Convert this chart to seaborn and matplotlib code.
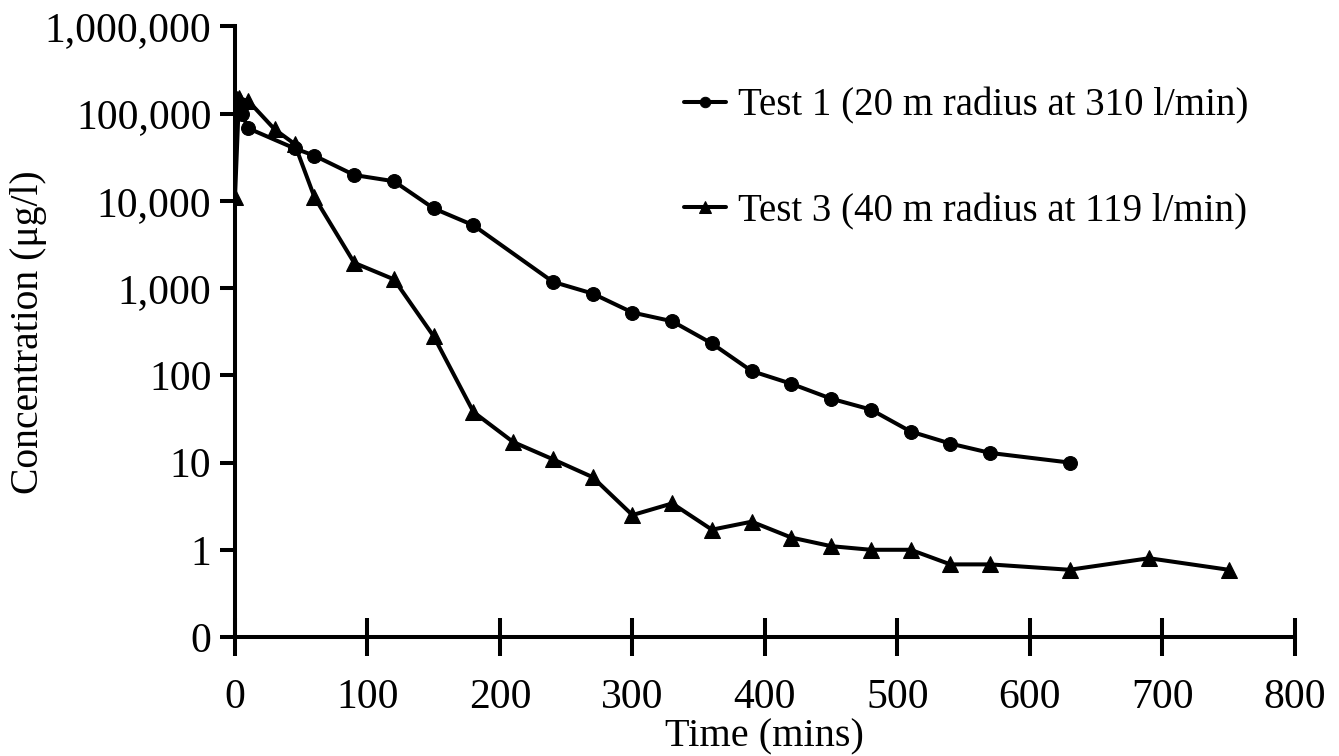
import matplotlib
matplotlib.use("Agg")
import matplotlib.pyplot as plt
import matplotlib.ticker as mticker
import seaborn as sns
import pandas as pd

# Data
t1_time = [0, 5, 10, 45, 60, 90, 120, 150, 180, 240, 270, 300, 330, 360, 390,
           420, 450, 480, 510, 540, 570, 630]
t1_conc = [150000, 100000, 68000, 40000, 33000, 19800, 16800, 8200, 5250, 1180,
           866, 525, 417, 232, 112, 80, 54, 40.5, 22.7, 16.5, 12.9, 10]
t3_time = [0, 3, 10, 30, 45, 60, 90, 120, 150, 180, 210, 240, 270, 300, 330,
           360, 390, 420, 450, 480, 510, 540, 570, 630, 690, 750]
t3_conc = [11000, 150000, 140000, 66000, 45000, 11000, 1950, 1260, 280, 38, 17.2,
           10.9, 6.8, 2.5, 3.4, 1.7, 2.1, 1.38, 1.1, 1.0, 1.0, 0.68, 0.68, 0.59,
           0.8, 0.59]
labels = ["Test 1 (20 m radius at 310 l/min)", "Test 3 (40 m radius at 119 l/min)"]
x_ticks = [0, 100, 200, 300, 400, 500, 600, 700, 800]
y_ticks = [0.1, 1, 10, 100, 1000, 10000, 100000, 1000000]
y_ticklabels = ["0", "1", "10", "100", "1,000", "10,000", "100,000", "1,000,000"]

sns.set_style("ticks")
plt.rcParams["font.family"] = ["Liberation Serif", "DejaVu Serif"]
plt.rcParams["text.color"] = "black"
plt.rcParams["axes.labelcolor"] = "black"

fig = plt.figure(figsize=(13.39, 7.56), dpi=100)
ax = fig.add_axes([0.1755, 0.1574, 0.7915, 0.8076])

df1 = pd.DataFrame({"time": t1_time, "conc": t1_conc})
df3 = pd.DataFrame({"time": t3_time, "conc": t3_conc})
sns.lineplot(data=df1, x="time", y="conc", ax=ax, color="black", lw=2.9,
             marker="o", markersize=10, markeredgecolor="black",
             estimator=None, label=labels[0])
sns.lineplot(data=df3, x="time", y="conc", ax=ax, color="black", lw=2.9,
             marker="^", markersize=11, markeredgecolor="black",
             estimator=None, label=labels[1])

ax.set_yscale("log")
ax.set_ylim(0.1, 1000000)
ax.set_xlim(0, 800)
ax.set_xticks(x_ticks)
ax.set_xticklabels([str(v) for v in x_ticks])
ax.set_yticks(y_ticks)
ax.set_yticklabels(y_ticklabels)
ax.yaxis.set_minor_locator(mticker.NullLocator())

sns.despine(ax=ax)
for s in ["left", "bottom"]:
    ax.spines[s].set_linewidth(2.9)
    ax.spines[s].set_color("black")
ax.tick_params(axis="x", direction="inout", length=28, width=2.9,
               labelsize=30, pad=16, colors="black")
ax.tick_params(axis="y", direction="out", length=11, width=2.9,
               labelsize=30, pad=6, colors="black")

ax.set_xlabel("Time (mins)", fontsize=29, color="black", va="center")
ax.xaxis.set_label_coords(0.5, -0.163)
ax.set_ylabel("Concentration (μg/l)", fontsize=28.5, color="black", va="center")
ax.yaxis.set_label_coords(-0.195, 0.5)

leg = ax.legend(loc="upper left", bbox_to_anchor=(0.409, 0.925), frameon=False,
                fontsize=28, labelspacing=1.75, handlelength=1.08,
                handletextpad=0.3, borderaxespad=0, markerscale=0.75)
for txt in leg.get_texts():
    txt.set_color("black")

fig.savefig("out.png", dpi=100)
